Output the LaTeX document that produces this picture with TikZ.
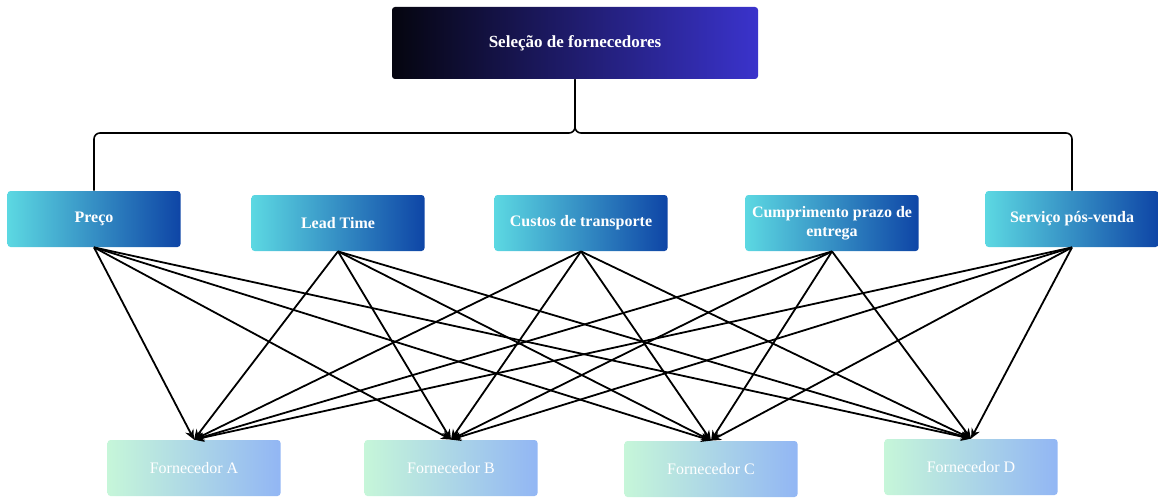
\documentclass[tikz,border=0pt]{standalone}
\usepackage{fontspec}
\setmainfont{Liberation Serif}
\usetikzlibrary{arrows.meta,positioning}

\definecolor{goalL}{HTML}{05050F}
\definecolor{goalR}{HTML}{3A33CC}
\definecolor{critL}{HTML}{5CD8E2}
\definecolor{critR}{HTML}{0E45A6}
\definecolor{altL}{HTML}{C6F6D9}
\definecolor{altR}{HTML}{92B6F4}

\begin{document}
\begin{tikzpicture}
[x=0.5pt, y=-0.5pt,
 goal/.style={rectangle, rounded corners=1.5pt, minimum width=183pt, minimum height=36pt,
   left color=goalL, right color=goalR, text=white, font=\fontsize{8.5}{10}\selectfont\bfseries},
 crit/.style={rectangle, rounded corners=1.5pt, minimum width=86.5pt, minimum height=28pt,
   left color=critL, right color=critR, text=white, align=center,
   font=\fontsize{8}{9.5}\selectfont\bfseries},
 alt/.style={rectangle, rounded corners=1.5pt, minimum width=86.5pt, minimum height=28pt,
   left color=altL, right color=altR, text=white, font=\fontsize{8}{9.5}\selectfont},
 fork/.style={line width=0.8pt, rounded corners=3pt},
 link/.style={-{Stealth[length=5pt,width=4.5pt]}, line width=0.9pt}]
    \useasboundingbox (0,0) rectangle (1159,497);
    % objective
    \node[goal](selecao) at (575,43) {Seleção de fornecedores};
    % criteria
    \node[crit](preco)  at (94,219)  {Preço};
    \node[crit](lead)   at (338,223) {Lead Time};
    \node[crit](custos) at (581,223) {Custos de transporte};
    \node[crit](prazo)  at (832,223) {Cumprimento prazo de\\entrega};
    \node[crit](servico) at (1072,219) {Serviço pós-venda};
    % alternatives
    \node[alt](fornA) at (194,468) {Fornecedor A};
    \node[alt](fornB) at (451,468) {Fornecedor B};
    \node[alt](fornC) at (711,469) {Fornecedor C};
    \node[alt](fornD) at (971,467) {Fornecedor D};
    \coordinate (split) at (575,133);
    \draw[fork] (selecao.south) |- (split -| preco.north) -- (preco.north);
    \draw[fork] (selecao.south) |- (split -| servico.north) -- (servico.north);
    \foreach \c in {preco,lead,custos,prazo,servico}
      \foreach \f in {fornA,fornB,fornC,fornD}
        \draw[link] (\c.south) -- (\f.north);
\end{tikzpicture}
\end{document}
